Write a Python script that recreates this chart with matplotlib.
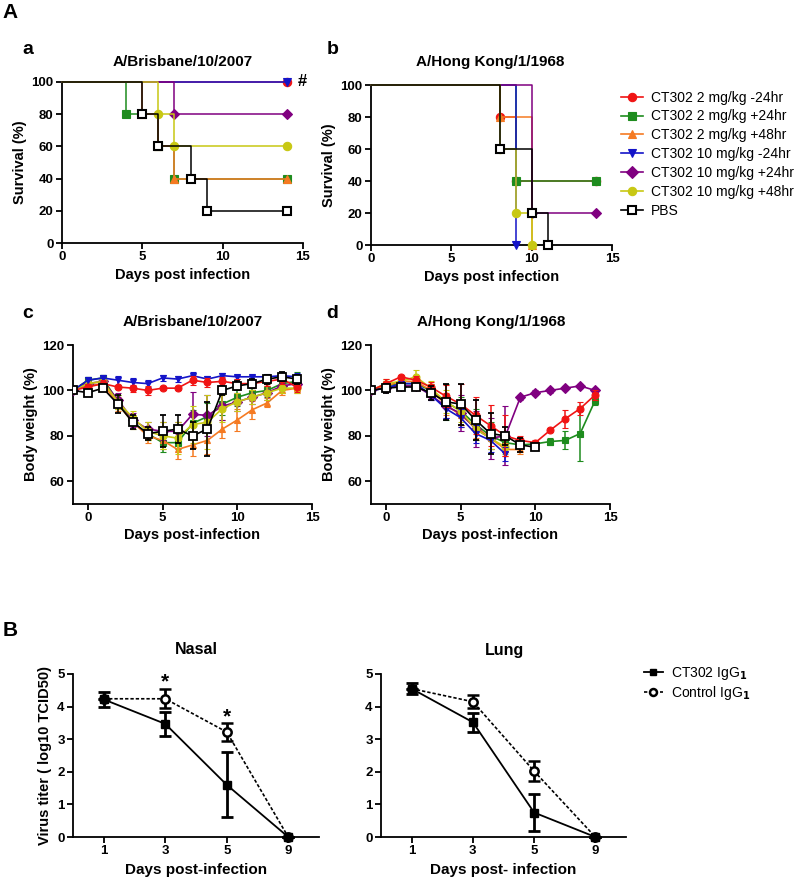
import matplotlib
matplotlib.use("Agg")
import matplotlib.pyplot as plt
from matplotlib.lines import Line2D

plt.rcParams["font.family"] = ["Liberation Sans", "DejaVu Sans"]
plt.rcParams["font.weight"] = "bold"
plt.rcParams["axes.linewidth"] = 1.3

W, H = 796, 882

# ---- data -----------------------------------------------------------------
groups = ["CT302 2 mg/kg -24hr", "CT302 2 mg/kg +24hr", "CT302 2 mg/kg +48hr",
          "CT302 10 mg/kg -24hr", "CT302 10 mg/kg +24hr", "CT302 10 mg/kg +48hr", "PBS"]
colors = ["#f01414", "#1e8c1e", "#f57a22", "#1414c8", "#800080", "#c8c814", "black"]
markers = ["o", "s", "^", "v", "D", "o", "s"]

# survival (Kaplan-Meier steps): event days and survival %
surv_a_t = [[0, 14], [0, 4, 6, 7, 14], [0, 5, 6, 7, 14], [0, 14], [0, 7, 14], [0, 6, 7, 14],
            [0, 5, 6, 8, 9, 14]]
surv_a_s = [[100, 100], [100, 80, 60, 40, 40], [100, 80, 60, 40, 40], [100, 100],
            [100, 80, 80], [100, 80, 60, 60], [100, 80, 60, 40, 20, 20]]
surv_b_t = [[0, 8, 9, 14], [0, 9, 14], [0, 8, 10], [0, 9], [0, 10, 14], [0, 8, 9, 10],
            [0, 8, 10, 11]]
surv_b_s = [[100, 80, 40, 40], [100, 40, 40], [100, 80, 0], [100, 0], [100, 20, 20],
            [100, 60, 20, 0], [100, 60, 20, 0]]

# body weight, Brisbane (days -1..14)
bw_c = [
    [100, 101.5, 103, 101.5, 101, 100, 101, 101, 104.5, 103.5, 104, 103, 103, 104, 105, 101.5],
    [100, 104.5, 105.5, 95, 86, 81, 77, 77, 85.5, 88.5, 94, 97, 99, 100, 103, 104],
    [100, 102, 103, 94, 86, 80, 78, 74, 76, 78, 83, 87, 91.5, 94.5, 100, 101],
    [100, 104.5, 105.5, 104.5, 103.5, 103, 105.5, 105, 106.5, 105, 106.5, 106, 106, 106, 106.5, 106],
    [100, 103, 104, 96, 87, 83, 82, 82, 89.5, 89, 93, 95, 97, 99, 102, 103],
    [100, 103, 104, 95, 88, 82, 80, 79, 85, 86, 92, 95, 97, 99, 101, 101],
    [100, 99, 101, 94, 86, 81, 82, 83, 80, 83, 100, 102, 103, 105, 106, 105],
]
bw_c_err = [
    [0, 1.5, 1.5, 1, 1.5, 2, 1, 1, 2, 2, 2, 2, 2, 2, 2, 2],
    [0, 1.5, 1.5, 3, 3, 3, 4, 3, 6, 6, 5, 4, 3, 3, 2, 4],
    [0, 1, 1, 3, 3, 3, 4, 4, 5, 6, 4, 5, 4, 2, 2, 2],
    [0, 1.5, 1.5, 2, 2, 1.5, 1.5, 1.5, 1.5, 1.5, 1, 1, 1, 1, 1, 1.5],
    [0, 1, 1, 3, 3, 3, 4, 4, 10, 9, 6, 4, 3, 3, 2, 2],
    [0, 1, 1, 3, 3, 4, 6, 7, 8, 12, 6, 4, 3, 3, 2, 2],
    [0, 1, 1, 4, 3, 3, 7, 6, 6, 12, 2, 2, 2, 2, 2, 2],
]

# body weight, Hong Kong (days -1..last surviving day)
bw_d = [
    [100, 103, 106, 104.5, 101.5, 97.5, 94, 89, 84.5, 80, 78, 77, 82.5, 87.5, 92, 98],
    [100, 102, 103, 103, 100, 95, 91, 85, 80, 77, 76, 76.5, 77.5, 78, 81, 95.5],
    [100, 102, 104, 104, 100, 94, 89, 84, 79, 74, 74],
    [100, 101, 103, 103, 98, 92, 88, 81, 78, 72],
    [100, 101, 102, 102, 98, 93, 90, 83, 79, 80, 97, 99, 100, 101, 102, 100],
    [100, 103, 104, 106, 101, 95, 91, 83, 79, 75],
    [100, 101, 101.5, 101.5, 99, 95, 94, 87, 81, 80, 76, 75],
]
bw_d_err = [
    [0, 2, 1, 2, 2, 5, 9, 8, 9, 9, 2, 1, 1, 4, 3, 2],
    [0, 2, 1, 2, 3, 8, 6, 7, 6, 4, 2, 1, 1.5, 4, 12, 2],
    [0, 2, 1, 2, 3, 5, 5, 5, 5, 3, 2],
    [0, 1, 1, 1, 2, 4, 4, 4, 5, 3],
    [0, 1, 1, 1, 2, 5, 8, 8, 9, 13, 1, 1, 1, 1, 1, 1],
    [0, 2, 2, 3, 3, 5, 5, 5, 5, 3],
    [0, 2, 1, 1, 3, 8, 9, 9, 9, 4, 3, 1],
]

# virus titer
titer_days = ["1", "3", "5", "9"]
nasal_ct302 = [4.22, 3.47, 1.6, 0]
nasal_ct302_err = [0.23, 0.37, 1.0, 0]
nasal_ctrl = [4.24, 4.24, 3.22, 0]
nasal_ctrl_err = [0.0, 0.29, 0.27, 0]
lung_ct302 = [4.55, 3.52, 0.75, 0]
lung_ct302_err = [0.16, 0.29, 0.58, 0]
lung_ctrl = [4.55, 4.15, 2.02, 0]
lung_ctrl_err = [0.0, 0.2, 0.3, 0]


def add_axes(fig, left, top, right, bottom):
    return fig.add_axes([left / W, 1 - bottom / H, (right - left) / W, (bottom - top) / H])


def style(ax):
    for side in ("top", "right"):
        ax.spines[side].set_visible(False)
    ax.tick_params(width=1.3, length=4, labelsize=9.5, pad=2)
    for lab in ax.get_xticklabels() + ax.get_yticklabels():
        lab.set_fontweight("bold")


def txt(fig, x, y, s, **kw):
    fig.text(x / W, 1 - y / H, s, ha="center", va="center", **kw)


def face(i):
    return "white" if i == 6 else colors[i]


def survival(ax, ts, ss):
    for i in range(len(groups)):
        ax.step(ts[i], ss[i], where="post", color=colors[i], lw=1.1, clip_on=False, zorder=2 + i)
        ax.plot(ts[i][1:], ss[i][1:], ls="none", marker=markers[i], ms=6 if i != 4 else 5.5,
                mfc=face(i), mec=colors[i], mew=1.5 if i == 6 else 0.8, clip_on=False, zorder=2 + i)
    ax.set_xlim(0, 15)
    ax.set_ylim(0, 100)
    ax.set_xticks([0, 5, 10, 15])
    ax.set_yticks([0, 20, 40, 60, 80, 100])
    ax.set_ylabel("Survival (%)", fontsize=10.5, fontweight="bold", labelpad=3)
    ax.set_xlabel("Days post infection", fontsize=10.5, fontweight="bold", labelpad=3)
    style(ax)


def weight(ax, data, errs):
    order = [1, 2, 4, 5, 3, 0, 6]
    for i in order:
        days = list(range(-1, len(data[i]) - 1))
        ax.errorbar(days, data[i], yerr=errs[i], color=colors[i], lw=1.2, elinewidth=1.1,
                    capsize=2.5, capthick=1.1, marker=markers[i], ms=5 if i != 6 else 5.5,
                    mfc=face(i), mec=colors[i], mew=1.3 if i == 6 else 0.8, zorder=2 + order.index(i))
    ax.set_xlim(-1, 15)
    ax.set_ylim(50, 120)
    ax.set_xticks([0, 5, 10, 15])
    ax.set_yticks([60, 80, 100, 120])
    ax.set_ylabel("Body weight (%)", fontsize=10.5, fontweight="bold", labelpad=3)
    ax.set_xlabel("Days post-infection", fontsize=10.5, fontweight="bold", labelpad=3)
    style(ax)


def titer(ax, ct, ct_err, ctrl, ctrl_err, xlabel):
    pos = list(range(len(titer_days)))
    ax.errorbar(pos, ctrl, yerr=ctrl_err, color="black", ls=(0, (2, 1.2)), lw=1.2, elinewidth=2,
                capsize=4, capthick=2, marker="o", ms=6, mfc="white", mec="black", mew=1.8,
                clip_on=False, zorder=3)
    ax.errorbar(pos, ct, yerr=ct_err, color="black", lw=1.3, elinewidth=2, capsize=4, capthick=2,
                marker="s", ms=6, mfc="black", mec="black", clip_on=False, zorder=4)
    ax.set_xlim(-0.5, 3.5)
    ax.set_ylim(0, 5)
    ax.set_xticks(pos)
    ax.set_xticklabels(titer_days)
    ax.set_yticks([0, 1, 2, 3, 4, 5])
    ax.set_xlabel(xlabel, fontsize=11, fontweight="bold", labelpad=4)
    style(ax)


fig = plt.figure(figsize=(W / 100, H / 100), dpi=100)

ax_a = add_axes(fig, 62, 82, 303, 243)
survival(ax_a, surv_a_t, surv_a_s)
ax_b = add_axes(fig, 371, 85, 612, 245)
survival(ax_b, surv_b_t, surv_b_s)
ax_a.text(14.7, 100, "#", fontsize=12, fontweight="bold", va="center", ha="left")

ax_c = add_axes(fig, 73, 345, 312, 504)
weight(ax_c, bw_c, bw_c_err)
ax_d = add_axes(fig, 371, 345, 610, 504)
weight(ax_d, bw_d, bw_d_err)

ax_n = add_axes(fig, 73, 674, 319, 837)
titer(ax_n, nasal_ct302, nasal_ct302_err, nasal_ctrl, nasal_ctrl_err, "Days post-infection")
ax_n.set_ylabel("Virus titer ( log10 TCID50)", fontsize=10.5, fontweight="bold", labelpad=4)
ax_n.text(1, 4.75, "*", fontsize=15, fontweight="bold", ha="center", va="center")
ax_n.text(2, 3.68, "*", fontsize=15, fontweight="bold", ha="center", va="center")
ax_l = add_axes(fig, 381, 674, 626, 837)
titer(ax_l, lung_ct302, lung_ct302_err, lung_ctrl, lung_ctrl_err, "Days post- infection")

# panel letters and titles
txt(fig, 10, 12, "A", fontsize=15, fontweight="bold")
txt(fig, 28, 49, "a", fontsize=14, fontweight="bold")
txt(fig, 333, 49, "b", fontsize=14, fontweight="bold")
txt(fig, 28, 313, "c", fontsize=14, fontweight="bold")
txt(fig, 332, 313, "d", fontsize=14, fontweight="bold")
txt(fig, 10, 630, "B", fontsize=15, fontweight="bold")
txt(fig, 183, 62, "A/Brisbane/10/2007", fontsize=11, fontweight="bold")
txt(fig, 490, 62, "A/Hong Kong/1/1968", fontsize=11, fontweight="bold")
txt(fig, 193, 322, "A/Brisbane/10/2007", fontsize=11, fontweight="bold")
txt(fig, 491, 322, "A/Hong Kong/1/1968", fontsize=11, fontweight="bold")
txt(fig, 196, 650, "Nasal", fontsize=11.5, fontweight="bold")
txt(fig, 504, 650, "Lung", fontsize=11.5, fontweight="bold")

# legend for A
handles = [Line2D([], [], color=colors[i], lw=1.2, marker=markers[i], ms=6,
                  mfc=face(i), mec=colors[i], mew=1.5 if i == 6 else 0.8)
           for i in range(len(groups))]
fig.legend(handles, groups, loc="upper left", bbox_to_anchor=(615 / W, 1 - 85 / H),
           frameon=False, handlelength=1.6, handletextpad=0.6,
           labelspacing=0.35, borderaxespad=0, prop={"weight": "normal", "size": 10})

# legend for B
hb = [Line2D([], [], color="black", lw=1.3, marker="s", ms=5, mfc="black"),
      Line2D([], [], color="black", ls=(0, (2, 1.2)), lw=1.2, marker="o", ms=5,
             mfc="white", mew=1.8)]
fig.legend(hb, ["CT302 IgG$_1$", "Control IgG$_1$"], loc="upper left",
           bbox_to_anchor=(638 / W, 1 - 659 / H), frameon=False, handlelength=1.4,
           handletextpad=0.6, labelspacing=0.15, borderaxespad=0,
           prop={"weight": "normal", "size": 10})

fig.savefig("out.png", dpi=100)
